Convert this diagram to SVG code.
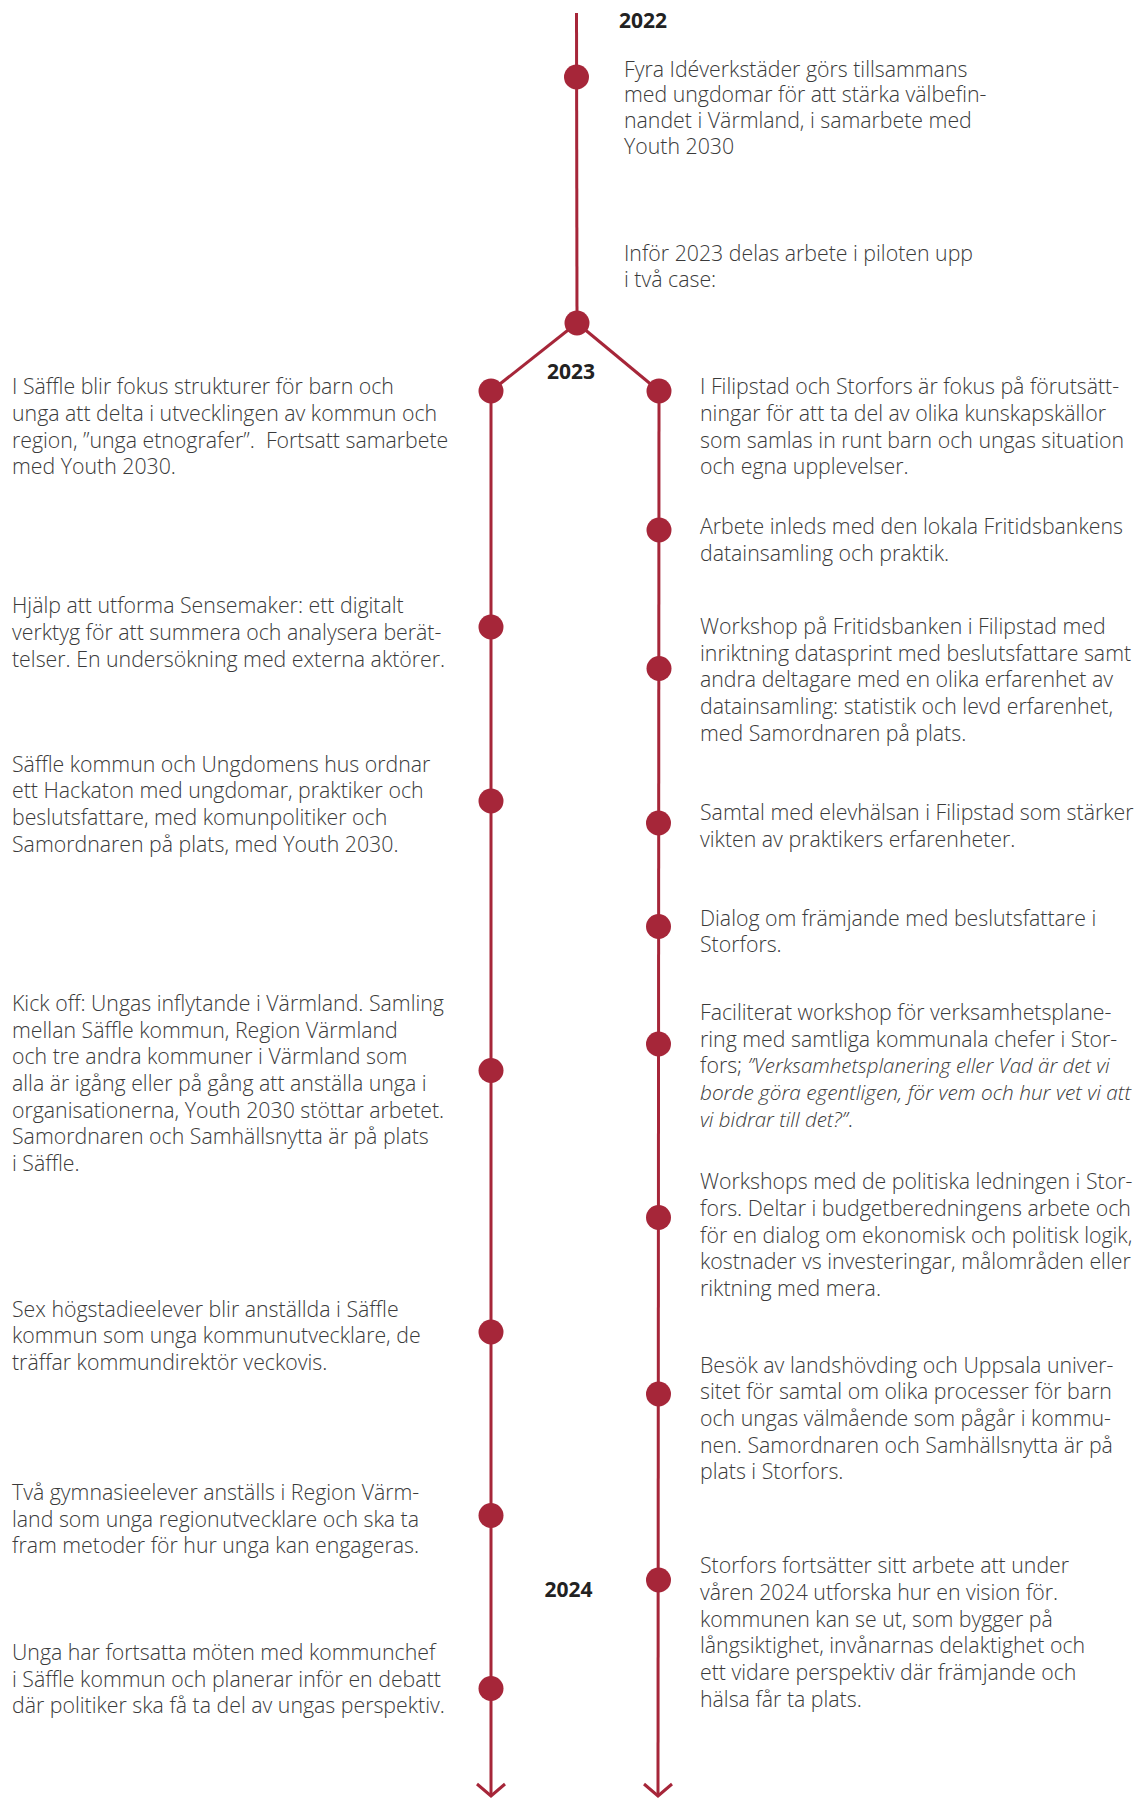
<svg xmlns="http://www.w3.org/2000/svg" width="1137" height="1798" viewBox="0 0 1137 1798">
<style>
.t{font-family:"Open Sans","Noto Sans","Liberation Sans",sans-serif;font-weight:300;font-size:21.3px;fill:#3a3a3a}
.y{font-family:"Open Sans","Noto Sans","Liberation Sans",sans-serif;font-weight:700;font-size:21px;fill:#222}
.i{font-style:italic;font-size:20.5px}
.n{fill:#a62639}
.c{stroke:#a62639;stroke-width:3;fill:none}
</style>
<defs>
<marker id="arr" markerUnits="userSpaceOnUse" orient="auto" refX="0" refY="0" markerWidth="30" markerHeight="30" viewBox="-15 -15 30 30" overflow="visible">
<path d="M-12,-14 L0,0 L-12,14" fill="none" stroke="#a62639" stroke-width="3"/>
</marker>
</defs>
<rect width="1137" height="1798" fill="#fff"/>
<g id="connectors" class="c">
<line x1="576.5" y1="13" x2="577" y2="323"/>
<line x1="577" y1="323" x2="491" y2="391"/>
<line x1="577" y1="323" x2="659" y2="391"/>
<line x1="491" y1="391" x2="491" y2="1796" marker-end="url(#arr)"/>
<line x1="659" y1="391" x2="658" y2="1796" marker-end="url(#arr)"/>
</g>
<g id="years">
<text class="y" x="619" y="28.3">2022</text>
<text class="y" x="571" y="379.3" text-anchor="middle">2023</text>
<text class="y" x="568.5" y="1596.7" text-anchor="middle">2024</text>
</g>
<g id="node-top">
<circle class="n" cx="576.5" cy="77" r="12.5"/>
<text class="t" x="624" y="76.7"><tspan x="624">Fyra Idéverkstäder görs tillsammans</tspan><tspan x="624" dy="25.6">med ungdomar för att stärka välbefin-</tspan><tspan x="624" dy="25.6">nandet i Värmland, i samarbete med</tspan><tspan x="624" dy="25.6">Youth 2030</tspan></text>
</g>
<g id="node-split">
<circle class="n" cx="577" cy="323" r="12.5"/>
<text class="t" x="624" y="260.7"><tspan x="624">Inför 2023 delas arbete i piloten upp</tspan><tspan x="624" dy="26">i två case:</tspan></text>
</g>
<g id="left-1">
<circle class="n" cx="491" cy="391" r="12.5"/>
<text class="t" y="394.3"><tspan x="12">I Säffle blir fokus strukturer för barn och</tspan><tspan x="12" dy="26.65">unga att delta i utvecklingen av kommun och</tspan><tspan x="12" dy="26.65">region, ”unga etnografer”.&#160; Fortsatt samarbete</tspan><tspan x="12" dy="26.65">med Youth 2030.</tspan></text>
</g>
<g id="left-2">
<circle class="n" cx="491" cy="627" r="12.5"/>
<text class="t" y="613.3"><tspan x="12">Hjälp att utforma Sensemaker: ett digitalt</tspan><tspan x="12" dy="26.65">verktyg för att summera och analysera berät-</tspan><tspan x="12" dy="26.65">telser. En undersökning med externa aktörer.</tspan></text>
</g>
<g id="left-3">
<circle class="n" cx="491" cy="801" r="12.5"/>
<text class="t" y="771.7"><tspan x="12">Säffle kommun och Ungdomens hus ordnar</tspan><tspan x="12" dy="26.65">ett Hackaton med ungdomar, praktiker och</tspan><tspan x="12" dy="26.65">beslutsfattare, med komunpolitiker och</tspan><tspan x="12" dy="26.65">Samordnaren på plats, med Youth 2030.</tspan></text>
</g>
<g id="left-4">
<circle class="n" cx="491" cy="1070.5" r="12.5"/>
<text class="t" y="1011"><tspan x="12">Kick off: Ungas inflytande i Värmland. Samling</tspan><tspan x="12" dy="26.65">mellan Säffle kommun, Region Värmland</tspan><tspan x="12" dy="26.65">och tre andra kommuner i Värmland som</tspan><tspan x="12" dy="26.65">alla är igång eller på gång att anställa unga i</tspan><tspan x="12" dy="26.65">organisationerna, Youth 2030 stöttar arbetet.</tspan><tspan x="12" dy="26.65">Samordnaren och Samhällsnytta är på plats</tspan><tspan x="12" dy="26.65">i Säffle.</tspan></text>
</g>
<g id="left-5">
<circle class="n" cx="491" cy="1332" r="12.5"/>
<text class="t" y="1316.7"><tspan x="12">Sex högstadieelever blir anställda i Säffle</tspan><tspan x="12" dy="26.65">kommun som unga kommunutvecklare, de</tspan><tspan x="12" dy="26.65">träffar kommundirektör veckovis.</tspan></text>
</g>
<g id="left-6">
<circle class="n" cx="491" cy="1515.5" r="12.5"/>
<text class="t" y="1500"><tspan x="12">Två gymnasieelever anställs i Region Värm-</tspan><tspan x="12" dy="26.65">land som unga regionutvecklare och ska ta</tspan><tspan x="12" dy="26.65">fram metoder för hur unga kan engageras.</tspan></text>
</g>
<g id="left-7">
<circle class="n" cx="491" cy="1688.5" r="12.5"/>
<text class="t" y="1660"><tspan x="12">Unga har fortsatta möten med kommunchef</tspan><tspan x="12" dy="26.65">i Säffle kommun och planerar inför en debatt</tspan><tspan x="12" dy="26.65">där politiker ska få ta del av ungas perspektiv.</tspan></text>
</g>
<g id="right-1">
<circle class="n" cx="659" cy="391" r="12.5"/>
<text class="t" y="394.3"><tspan x="700">I Filipstad och Storfors är fokus på förutsätt-</tspan><tspan x="700" dy="26.65">ningar för att ta del av olika kunskapskällor</tspan><tspan x="700" dy="26.65">som samlas in runt barn och ungas situation</tspan><tspan x="700" dy="26.65">och egna upplevelser.</tspan></text>
</g>
<g id="right-2">
<circle class="n" cx="659" cy="530" r="12.5"/>
<text class="t" y="534"><tspan x="700">Arbete inleds med den lokala Fritidsbankens</tspan><tspan x="700" dy="26.65">datainsamling och praktik.</tspan></text>
</g>
<g id="right-3">
<circle class="n" cx="659" cy="668.5" r="12.5"/>
<text class="t" y="634"><tspan x="700">Workshop på Fritidsbanken i Filipstad med</tspan><tspan x="700" dy="26.65">inriktning datasprint med beslutsfattare samt</tspan><tspan x="700" dy="26.65">andra deltagare med en olika erfarenhet av</tspan><tspan x="700" dy="26.65">datainsamling: statistik och levd erfarenhet,</tspan><tspan x="700" dy="26.65">med Samordnaren på plats.</tspan></text>
</g>
<g id="right-4">
<circle class="n" cx="658.5" cy="823" r="12.5"/>
<text class="t" y="820"><tspan x="700">Samtal med elevhälsan i Filipstad som stärker</tspan><tspan x="700" dy="26.65">vikten av praktikers erfarenheter.</tspan></text>
</g>
<g id="right-5">
<circle class="n" cx="658.5" cy="926.5" r="12.5"/>
<text class="t" y="925.7"><tspan x="700">Dialog om främjande med beslutsfattare i</tspan><tspan x="700" dy="26.65">Storfors.</tspan></text>
</g>
<g id="right-6">
<circle class="n" cx="658.5" cy="1044" r="12.5"/>
<text class="t" y="1020"><tspan x="700">Faciliterat workshop för verksamhetsplane-</tspan><tspan x="700" dy="26.65">ring med samtliga kommunala chefer i Stor-</tspan><tspan x="700" dy="26.65">fors; <tspan class="i">”Verksamhetsplanering eller Vad är det vi</tspan></tspan><tspan x="700" dy="26.65" class="i" textLength="431" lengthAdjust="spacingAndGlyphs">borde göra egentligen, för vem och hur vet vi att</tspan><tspan x="700" dy="26.65"><tspan class="i">vi bidrar till det?”</tspan>.</tspan></text>
</g>
<g id="right-7">
<circle class="n" cx="658.5" cy="1217.5" r="12.5"/>
<text class="t" y="1189.3"><tspan x="700">Workshops med de politiska ledningen i Stor-</tspan><tspan x="700" dy="26.65">fors. Deltar i budgetberedningens arbete och</tspan><tspan x="700" dy="26.65">för en dialog om ekonomisk och politisk logik,</tspan><tspan x="700" dy="26.65">kostnader vs investeringar, målområden eller</tspan><tspan x="700" dy="26.65">riktning med mera.</tspan></text>
</g>
<g id="right-8">
<circle class="n" cx="658.5" cy="1394" r="12.5"/>
<text class="t" y="1372.7"><tspan x="700">Besök av landshövding och Uppsala univer-</tspan><tspan x="700" dy="26.65">sitet för samtal om olika processer för barn</tspan><tspan x="700" dy="26.65">och ungas välmående som pågår i kommu-</tspan><tspan x="700" dy="26.65">nen. Samordnaren och Samhällsnytta är på</tspan><tspan x="700" dy="26.65">plats i Storfors.</tspan></text>
</g>
<g id="right-9">
<circle class="n" cx="658.5" cy="1580" r="12.5"/>
<text class="t" y="1573.3"><tspan x="700">Storfors fortsätter sitt arbete att under</tspan><tspan x="700" dy="26.65">våren 2024 utforska hur en vision för.</tspan><tspan x="700" dy="26.65">kommunen kan se ut, som bygger på</tspan><tspan x="700" dy="26.65">långsiktighet, invånarnas delaktighet och</tspan><tspan x="700" dy="26.65">ett vidare perspektiv där främjande och</tspan><tspan x="700" dy="26.65">hälsa får ta plats.</tspan></text>
</g>
</svg>
